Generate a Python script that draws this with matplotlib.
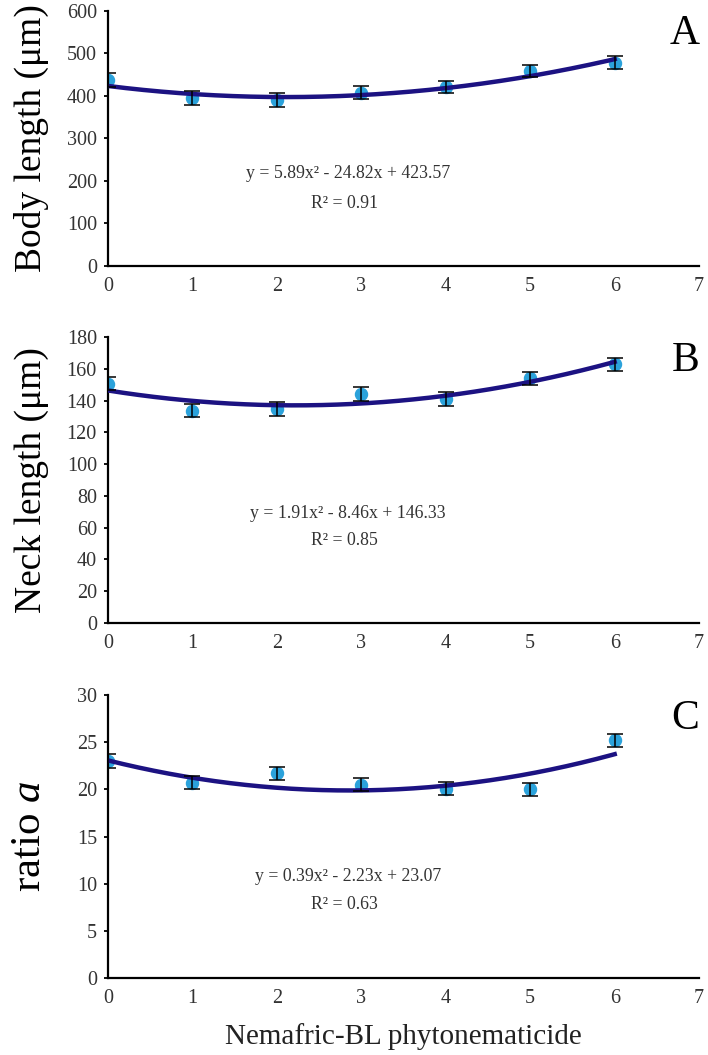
import matplotlib
matplotlib.use('Agg')
import matplotlib.pyplot as plt
import numpy as np

plt.rcParams['font.family'] = ['Liberation Serif', 'DejaVu Serif']
plt.rcParams['mathtext.fontset'] = 'custom'
plt.rcParams['mathtext.rm'] = 'Liberation Serif'
plt.rcParams['mathtext.it'] = 'Liberation Serif:italic'

# concentration levels
doses = [0, 1, 2, 3, 4, 5, 6]

# panel A: body length
body_mean = [438, 395, 391, 408, 421, 459, 478]
body_err = [16, 16, 16, 15, 14, 15, 15]
body_coef = [5.89, -24.82, 423.57]

# panel B: neck length
neck_mean = [150.7, 133.6, 134.7, 144.0, 141.0, 154.0, 162.8]
neck_err = [4.2, 4.2, 4.2, 4.2, 4.2, 4.2, 4.0]
neck_coef = [1.91, -8.46, 146.33]

# panel C: ratio a
ratio_mean = [23.0, 20.7, 21.7, 20.5, 20.05, 20.0, 25.2]
ratio_err = [0.7, 0.7, 0.7, 0.7, 0.7, 0.7, 0.7]
ratio_coef = [0.39, -2.23, 23.07]

panels = [
    dict(mean=body_mean, err=body_err, coef=body_coef, ylim=600, step=100,
         ylabel='Body length (μm)', lsize=27, tag='A',
         eq='y = 5.89x² - 24.82x + 423.57', r2='R² = 0.91',
         eq_y=218, r2_y=147, pos=[0.1525, 0.7479, 0.835, 0.2417]),
    dict(mean=neck_mean, err=neck_err, coef=neck_coef, ylim=180, step=20,
         ylabel='Neck length (μm)', lsize=27, tag='B',
         eq='y = 1.91x² - 8.46x + 146.33', r2='R² = 0.85',
         eq_y=69, r2_y=52, pos=[0.1525, 0.4095, 0.835, 0.2711]),
    dict(mean=ratio_mean, err=ratio_err, coef=ratio_coef, ylim=30, step=5,
         ylabel='ratio $\\mathit{a}$', lsize=31, tag='C',
         eq='y = 0.39x² - 2.23x + 23.07', r2='R² = 0.63',
         eq_y=10.8, r2_y=7.8, pos=[0.1525, 0.0730, 0.835, 0.2682]),
]

fig = plt.figure(figsize=(7.08, 10.55), dpi=100)

for p in panels:
    ax = fig.add_axes(p['pos'])
    xs = np.linspace(0, 6, 200)
    ax.plot(xs, np.polyval(p['coef'], xs), color='#1c1282', lw=3.2, zorder=3)
    ax.errorbar(doses, p['mean'], yerr=p['err'], fmt='none', ecolor='black',
                elinewidth=1.1, capsize=5.5, capthick=1.1, zorder=4)
    ax.scatter(doses, p['mean'], s=75, color='#2ba2db', zorder=2)

    ax.set_xlim(0, 7)
    ax.set_ylim(0, p['ylim'])
    ax.set_xticks(range(8))
    ax.set_yticks(np.arange(0, p['ylim'] + 1, p['step']))
    for s in ['top', 'right']:
        ax.spines[s].set_visible(False)
    for s in ['left', 'bottom']:
        ax.spines[s].set_linewidth(1.6)
    ax.tick_params(axis='x', length=0, pad=8, labelsize=14.5, colors='#333333')
    ax.tick_params(axis='y', length=3, width=1.3, pad=5, labelsize=14.5,
                   colors='#333333')
    ax.tick_params(axis='both', color='black')

    ax.text(2.84, p['eq_y'], p['eq'], ha='center', va='center', fontsize=12.8,
            color='#333333')
    ax.text(2.80, p['r2_y'], p['r2'], ha='center', va='center', fontsize=12.8,
            color='#333333')
    ax.text(1.0, 0.985, p['tag'], transform=ax.transAxes, ha='right', va='top',
            fontsize=30)
    ax.set_ylabel(p['ylabel'], fontsize=p['lsize'])
    ax.yaxis.set_label_coords(-0.10, 0.5)

ax.set_xlabel('Nemafric-BL phytonematicide', fontsize=21, labelpad=11,
              color='#222222')

fig.savefig('out.png', dpi=100)
